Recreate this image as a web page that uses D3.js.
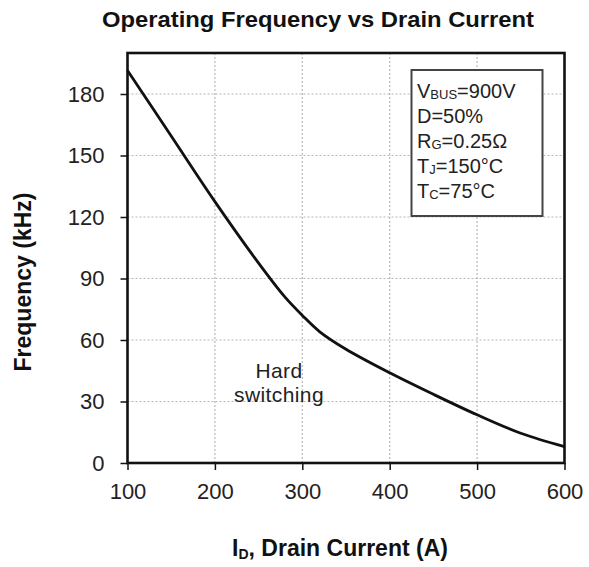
<!DOCTYPE html>
<html>
<head>
<meta charset="utf-8">
<script src="https://cdn.jsdelivr.net/npm/d3@7"></script>
<style>
  html, body { margin: 0; padding: 0; background: #fff; }
  text { font-family: "Liberation Sans", Arial, sans-serif; }
</style>
</head>
<body>
<svg id="chart" width="589" height="567"></svg>
<script>
// ---- data ----
const drainCurrent = [100, 150, 200, 250, 280, 300, 320, 350, 400, 450, 500, 550, 600];
const frequency    = [191.5, 159.5, 127.5, 97.5, 81, 72, 64, 55.5, 44, 33.5, 23.5, 14.5, 8];
const xTicks = [100, 200, 300, 400, 500, 600];
const yTicks = [0, 30, 60, 90, 120, 150, 180];
const titleText = "Operating Frequency vs Drain Current";
const yTitle = "Frequency (kHz)";
const regionLabel = ["Hard", "switching"];
const conditions = [
  ["V", "BUS", "=900V"],
  ["D=50%", "", ""],
  ["R", "G", "=0.25Ω"],
  ["T", "J", "=150°C"],
  ["T", "C", "=75°C"]
];

// ---- layout ----
const svg = d3.select("#chart");
const L = 127.5, R = 564.5, T = 53, B = 463;
const x = d3.scaleLinear().domain([100, 600]).range([L, R]);
const y = d3.scaleLinear().domain([0, 200]).range([B, T]);

// grid
const grid = svg.append("g");
grid.selectAll(".gx").data(xTicks.slice(1, -1)).enter().append("line")
  .attr("x1", d => x(d)).attr("x2", d => x(d)).attr("y1", T).attr("y2", B)
  .attr("stroke", "#b8b8b8").attr("stroke-width", 1.2).attr("stroke-dasharray", "2,2");
grid.selectAll(".gy").data(yTicks.slice(1)).enter().append("line")
  .attr("x1", L).attr("x2", R).attr("y1", d => y(d)).attr("y2", d => y(d))
  .attr("stroke", "#b8b8b8").attr("stroke-width", 1.2).attr("stroke-dasharray", "2,2");

// axes
const xAxis = d3.axisBottom(x).tickValues(xTicks).tickSize(7).tickPadding(13).tickFormat(d3.format("d"));
const yAxis = d3.axisLeft(y).tickValues(yTicks).tickSize(7).tickPadding(16).tickFormat(d3.format("d"));
const gx = svg.append("g").attr("transform", `translate(0,${B})`).call(xAxis);
const gy = svg.append("g").attr("transform", `translate(${L},0)`).call(yAxis);
[gx, gy].forEach(g => {
  g.select(".domain").remove();
  g.selectAll(".tick line").attr("stroke", "#111").attr("stroke-width", 1.5);
  g.selectAll(".tick text").attr("fill", "#222").style("font-size", "22px")
    .style("font-family", "'Liberation Sans', Arial, sans-serif");
});
gx.selectAll(".tick text").attr("dy", "0.71em");

// frame
svg.append("rect").attr("x", L).attr("y", T).attr("width", R - L).attr("height", B - T)
  .attr("fill", "none").attr("stroke", "#111").attr("stroke-width", 2.6);

// curve
const pts = drainCurrent.map((d, i) => [d, frequency[i]]);
const line = d3.line().x(d => x(d[0])).y(d => y(d[1])).curve(d3.curveCatmullRom.alpha(0.5));
svg.append("path").datum(pts).attr("d", line)
  .attr("fill", "none").attr("stroke", "#111").attr("stroke-width", 2.8);

// region label
const hs = svg.append("text").attr("text-anchor", "middle").attr("fill", "#222")
  .style("font-size", "21px").attr("letter-spacing", "0.4");
hs.selectAll("tspan").data(regionLabel).enter().append("tspan")
  .attr("x", 279).attr("y", (d, i) => 378 + i * 24).text(d => d);

// conditions box
svg.append("rect").attr("x", 411.5).attr("y", 70).attr("width", 131).attr("height", 146)
  .attr("fill", "#fff").attr("stroke", "#444").attr("stroke-width", 2);
conditions.forEach((c, i) => {
  const t = svg.append("text").attr("x", 417).attr("y", 98 + i * 25)
    .attr("fill", "#222").style("font-size", "20px");
  t.append("tspan").text(c[0]);
  if (c[1]) {
    t.append("tspan").style("font-size", "13px").attr("dy", 1).text(c[1]);
    t.append("tspan").attr("dy", -1).text(c[2]);
  }
});

// title
svg.append("text").attr("x", 318).attr("y", 27).attr("text-anchor", "middle")
  .style("font-size", "22px").style("font-weight", "bold").attr("fill", "#111")
  .attr("textLength", 432).attr("lengthAdjust", "spacingAndGlyphs")
  .text(titleText);

// y title
svg.append("text").attr("transform", `translate(31,282) rotate(-90)`)
  .attr("text-anchor", "middle").style("font-size", "23px").style("font-weight", "bold")
  .attr("fill", "#111").text(yTitle);

// x title
const xt = svg.append("text").attr("x", 340).attr("y", 556).attr("text-anchor", "middle")
  .style("font-size", "23px").style("font-weight", "bold").attr("fill", "#111");
xt.append("tspan").text("I");
xt.append("tspan").style("font-size", "14px").attr("dy", 3).text("D");
xt.append("tspan").attr("dy", -3).text(", Drain Current (A)");
</script>
</body>
</html>
